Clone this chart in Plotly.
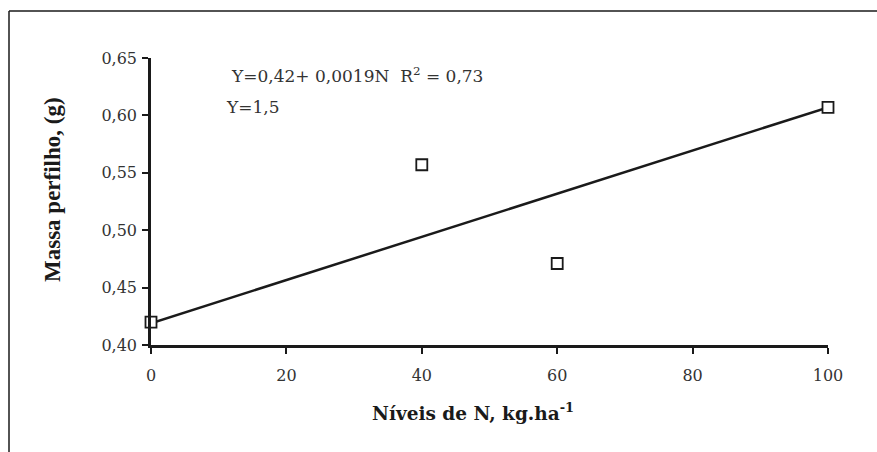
import plotly.graph_objects as go

# Data
n_levels = [0, 40, 60, 100]
massa = [0.420, 0.557, 0.471, 0.607]
trend_x = [0, 100]
trend_y = [0.419, 0.607]
x_ticks = [0, 20, 40, 60, 80, 100]
y_ticks = [0.40, 0.45, 0.50, 0.55, 0.60, 0.65]

W, H = 877, 452
ML, MR, MT, MB = 151, 49, 58, 107
pw, ph = W - ML - MR, H - MT - MB

serif_wide = "DejaVu Serif, serif"
serif = "Liberation Serif, Times New Roman, serif"
ink = "#1a1a1a"
grey = "#333333"

fig = go.Figure()
fig.add_trace(go.Scatter(x=trend_x, y=trend_y, mode="lines",
                         line=dict(color=ink, width=2.5),
                         showlegend=False, hoverinfo="skip", cliponaxis=False))
fig.add_trace(go.Scatter(x=n_levels, y=massa, mode="markers",
                         marker=dict(symbol="square", size=11, color="white",
                                     line=dict(width=1.8, color=ink)),
                         showlegend=False, cliponaxis=False))

fig.update_layout(
    width=W, height=H,
    margin=dict(l=ML, r=MR, t=MT, b=MB),
    paper_bgcolor="white", plot_bgcolor="white",
    separators=",.",
    font=dict(family=serif_wide, color=grey, size=16),
    xaxis=dict(range=[0, 100], tickvals=x_ticks, ticks="outside", ticklen=6,
               tickwidth=1.5, tickcolor=ink, showline=True, linecolor=ink,
               linewidth=2.5, showgrid=False, zeroline=False, ticklabelstandoff=8,
               tickfont=dict(family=serif_wide, size=16, color=grey)),
    yaxis=dict(range=[0.40, 0.65], tickvals=y_ticks, tickformat=".2f",
               ticks="outside", ticklen=6, tickwidth=1.5, tickcolor=ink,
               showline=True, linecolor=ink, linewidth=2.5, showgrid=False,
               zeroline=False, ticklabelstandoff=2,
               tickfont=dict(family=serif_wide, size=16, color=grey)),
)

def px(x):
    return (x - ML) / pw

def py(y):
    return 1 - (y - MT) / ph

# axis titles
fig.add_annotation(xref="paper", yref="paper", x=px(473), y=py(412),
                   xanchor="center", yanchor="middle", showarrow=False,
                   text="<b>Níveis de N, kg.ha<sup>-1</sup></b>",
                   font=dict(family=serif_wide, size=18.5, color=ink))
fig.add_annotation(xref="paper", yref="paper", x=px(52), y=py(190),
                   xanchor="center", yanchor="middle", showarrow=False,
                   textangle=-90,
                   text="<b>Massa perfilho, (g)</b>",
                   font=dict(family=serif, size=23, color=ink))

# equations
fig.add_annotation(xref="paper", yref="paper", x=px(229), y=py(75),
                   xanchor="left", yanchor="middle", showarrow=False,
                   text="Y=0,42+ 0,0019N  R<sup>2</sup> = 0,73",
                   font=dict(family=serif_wide, size=17, color=grey))
fig.add_annotation(xref="paper", yref="paper", x=px(224), y=py(107),
                   xanchor="left", yanchor="middle", showarrow=False,
                   text="Y=1,5",
                   font=dict(family=serif_wide, size=17, color=grey))

# outer frame (top and left edges visible)
fig.add_shape(type="line", xref="paper", yref="paper", x0=px(9), x1=px(W + 5),
              y0=py(11), y1=py(11), line=dict(color=ink, width=1.5))
fig.add_shape(type="line", xref="paper", yref="paper", x0=px(9), x1=px(9),
              y0=py(11), y1=py(H + 5), line=dict(color=ink, width=1.5))

fig.write_html("out.html")
